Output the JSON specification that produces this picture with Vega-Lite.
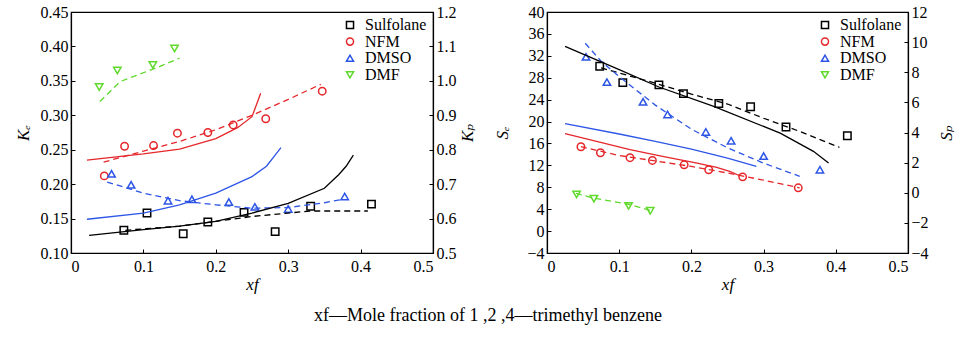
{
  "$schema": "https://vega.github.io/schema/vega-lite/v6.json",
  "background": "white",
  "padding": {"left": 13, "top": 3, "right": 5, "bottom": 5},
  "autosize": {"type": "pad"},
  "title": {"text": "xf—Mole fraction of 1 ,2 ,4—trimethyl benzene", "orient": "bottom", "anchor": "middle", "fontSize": 18, "font": "Liberation Serif, Times New Roman, DejaVu Serif, serif", "fontWeight": "normal", "color": "black", "offset": 14, "dx": 4},
  "spacing": 114,
  "bounds": "flush",
  "datasets": {
    "left_pts": [
      {"solvent": "Sulfolane", "xf": 0.073, "value": 0.133},
      {"solvent": "Sulfolane", "xf": 0.105, "value": 0.158},
      {"solvent": "Sulfolane", "xf": 0.155, "value": 0.128},
      {"solvent": "Sulfolane", "xf": 0.189, "value": 0.145},
      {"solvent": "Sulfolane", "xf": 0.239, "value": 0.159},
      {"solvent": "Sulfolane", "xf": 0.282, "value": 0.131},
      {"solvent": "Sulfolane", "xf": 0.331, "value": 0.168},
      {"solvent": "Sulfolane", "xf": 0.415, "value": 0.171},
      {"solvent": "NFM", "xf": 0.046, "value": 0.212},
      {"solvent": "NFM", "xf": 0.074, "value": 0.255},
      {"solvent": "NFM", "xf": 0.114, "value": 0.256},
      {"solvent": "NFM", "xf": 0.147, "value": 0.274},
      {"solvent": "NFM", "xf": 0.189, "value": 0.275},
      {"solvent": "NFM", "xf": 0.224, "value": 0.286},
      {"solvent": "NFM", "xf": 0.269, "value": 0.295},
      {"solvent": "NFM", "xf": 0.347, "value": 0.335},
      {"solvent": "DMSO", "xf": 0.056, "value": 0.215},
      {"solvent": "DMSO", "xf": 0.083, "value": 0.199},
      {"solvent": "DMSO", "xf": 0.134, "value": 0.176},
      {"solvent": "DMSO", "xf": 0.167, "value": 0.178},
      {"solvent": "DMSO", "xf": 0.218, "value": 0.174},
      {"solvent": "DMSO", "xf": 0.254, "value": 0.167},
      {"solvent": "DMSO", "xf": 0.300, "value": 0.164},
      {"solvent": "DMSO", "xf": 0.378, "value": 0.182},
      {"solvent": "DMF", "xf": 0.039, "value": 0.341},
      {"solvent": "DMF", "xf": 0.064, "value": 0.365},
      {"solvent": "DMF", "xf": 0.113, "value": 0.373},
      {"solvent": "DMF", "xf": 0.143, "value": 0.397}
    ],
    "left_dash": [
      {"solvent": "Sulfolane", "xf": 0.075, "value": 0.133},
      {"solvent": "Sulfolane", "xf": 0.15, "value": 0.139},
      {"solvent": "Sulfolane", "xf": 0.2, "value": 0.146},
      {"solvent": "Sulfolane", "xf": 0.25, "value": 0.153},
      {"solvent": "Sulfolane", "xf": 0.3, "value": 0.158},
      {"solvent": "Sulfolane", "xf": 0.33, "value": 0.161},
      {"solvent": "Sulfolane", "xf": 0.41, "value": 0.161},
      {"solvent": "NFM", "xf": 0.045, "value": 0.232},
      {"solvent": "NFM", "xf": 0.1, "value": 0.248},
      {"solvent": "NFM", "xf": 0.15, "value": 0.262},
      {"solvent": "NFM", "xf": 0.2, "value": 0.279},
      {"solvent": "NFM", "xf": 0.25, "value": 0.300},
      {"solvent": "NFM", "xf": 0.3, "value": 0.323},
      {"solvent": "NFM", "xf": 0.345, "value": 0.345},
      {"solvent": "DMSO", "xf": 0.05, "value": 0.203},
      {"solvent": "DMSO", "xf": 0.1, "value": 0.187},
      {"solvent": "DMSO", "xf": 0.15, "value": 0.176},
      {"solvent": "DMSO", "xf": 0.2, "value": 0.170},
      {"solvent": "DMSO", "xf": 0.25, "value": 0.165},
      {"solvent": "DMSO", "xf": 0.3, "value": 0.166},
      {"solvent": "DMSO", "xf": 0.35, "value": 0.173},
      {"solvent": "DMSO", "xf": 0.375, "value": 0.178},
      {"solvent": "DMF", "xf": 0.04, "value": 0.320},
      {"solvent": "DMF", "xf": 0.068, "value": 0.349},
      {"solvent": "DMF", "xf": 0.123, "value": 0.371},
      {"solvent": "DMF", "xf": 0.15, "value": 0.383}
    ],
    "left_solid": [
      {"solvent": "Sulfolane", "xf": 0.025, "value": 0.551},
      {"solvent": "Sulfolane", "xf": 0.1, "value": 0.568},
      {"solvent": "Sulfolane", "xf": 0.15, "value": 0.578},
      {"solvent": "Sulfolane", "xf": 0.2, "value": 0.592},
      {"solvent": "Sulfolane", "xf": 0.25, "value": 0.616},
      {"solvent": "Sulfolane", "xf": 0.3, "value": 0.644},
      {"solvent": "Sulfolane", "xf": 0.35, "value": 0.688},
      {"solvent": "Sulfolane", "xf": 0.37, "value": 0.728},
      {"solvent": "Sulfolane", "xf": 0.38, "value": 0.752},
      {"solvent": "Sulfolane", "xf": 0.39, "value": 0.784},
      {"solvent": "NFM", "xf": 0.022, "value": 0.770},
      {"solvent": "NFM", "xf": 0.1, "value": 0.788},
      {"solvent": "NFM", "xf": 0.15, "value": 0.802},
      {"solvent": "NFM", "xf": 0.2, "value": 0.832},
      {"solvent": "NFM", "xf": 0.23, "value": 0.864},
      {"solvent": "NFM", "xf": 0.25, "value": 0.896},
      {"solvent": "NFM", "xf": 0.262, "value": 0.964},
      {"solvent": "DMSO", "xf": 0.022, "value": 0.598},
      {"solvent": "DMSO", "xf": 0.1, "value": 0.616},
      {"solvent": "DMSO", "xf": 0.15, "value": 0.640},
      {"solvent": "DMSO", "xf": 0.2, "value": 0.674},
      {"solvent": "DMSO", "xf": 0.25, "value": 0.722},
      {"solvent": "DMSO", "xf": 0.27, "value": 0.752},
      {"solvent": "DMSO", "xf": 0.29, "value": 0.806}
    ],
    "right_pts": [
      {"solvent": "Sulfolane", "xf": 0.073, "value": 30.1},
      {"solvent": "Sulfolane", "xf": 0.105, "value": 27.1},
      {"solvent": "Sulfolane", "xf": 0.155, "value": 26.7},
      {"solvent": "Sulfolane", "xf": 0.189, "value": 25.1},
      {"solvent": "Sulfolane", "xf": 0.238, "value": 23.3},
      {"solvent": "Sulfolane", "xf": 0.282, "value": 22.7},
      {"solvent": "Sulfolane", "xf": 0.331, "value": 19.0},
      {"solvent": "Sulfolane", "xf": 0.416, "value": 17.4},
      {"solvent": "NFM", "xf": 0.047, "value": 15.4},
      {"solvent": "NFM", "xf": 0.074, "value": 14.3},
      {"solvent": "NFM", "xf": 0.115, "value": 13.4},
      {"solvent": "NFM", "xf": 0.146, "value": 12.9},
      {"solvent": "NFM", "xf": 0.190, "value": 12.1},
      {"solvent": "NFM", "xf": 0.224, "value": 11.2},
      {"solvent": "NFM", "xf": 0.271, "value": 9.9},
      {"solvent": "NFM", "xf": 0.348, "value": 7.9},
      {"solvent": "DMSO", "xf": 0.054, "value": 31.8},
      {"solvent": "DMSO", "xf": 0.083, "value": 27.2},
      {"solvent": "DMSO", "xf": 0.133, "value": 23.6},
      {"solvent": "DMSO", "xf": 0.167, "value": 21.3},
      {"solvent": "DMSO", "xf": 0.220, "value": 18.1},
      {"solvent": "DMSO", "xf": 0.255, "value": 16.5},
      {"solvent": "DMSO", "xf": 0.300, "value": 13.7},
      {"solvent": "DMSO", "xf": 0.378, "value": 11.2},
      {"solvent": "DMF", "xf": 0.041, "value": 6.7},
      {"solvent": "DMF", "xf": 0.065, "value": 5.9},
      {"solvent": "DMF", "xf": 0.113, "value": 4.6},
      {"solvent": "DMF", "xf": 0.143, "value": 3.7}
    ],
    "right_dash": [
      {"solvent": "Sulfolane", "xf": 0.075, "value": 29.8},
      {"solvent": "Sulfolane", "xf": 0.15, "value": 27.0},
      {"solvent": "Sulfolane", "xf": 0.2, "value": 25.0},
      {"solvent": "Sulfolane", "xf": 0.25, "value": 23.2},
      {"solvent": "Sulfolane", "xf": 0.3, "value": 20.6},
      {"solvent": "Sulfolane", "xf": 0.35, "value": 18.2},
      {"solvent": "Sulfolane", "xf": 0.405, "value": 15.3},
      {"solvent": "NFM", "xf": 0.047, "value": 15.4},
      {"solvent": "NFM", "xf": 0.1, "value": 13.8},
      {"solvent": "NFM", "xf": 0.15, "value": 12.8},
      {"solvent": "NFM", "xf": 0.2, "value": 11.8},
      {"solvent": "NFM", "xf": 0.25, "value": 10.6},
      {"solvent": "NFM", "xf": 0.3, "value": 9.3},
      {"solvent": "NFM", "xf": 0.35, "value": 7.9},
      {"solvent": "DMSO", "xf": 0.053, "value": 34.3},
      {"solvent": "DMSO", "xf": 0.075, "value": 31.0},
      {"solvent": "DMSO", "xf": 0.1, "value": 28.2},
      {"solvent": "DMSO", "xf": 0.15, "value": 23.0},
      {"solvent": "DMSO", "xf": 0.2, "value": 18.6},
      {"solvent": "DMSO", "xf": 0.25, "value": 15.2},
      {"solvent": "DMSO", "xf": 0.3, "value": 12.4},
      {"solvent": "DMSO", "xf": 0.35, "value": 10.0},
      {"solvent": "DMF", "xf": 0.04, "value": 6.9},
      {"solvent": "DMF", "xf": 0.065, "value": 6.0},
      {"solvent": "DMF", "xf": 0.113, "value": 4.9},
      {"solvent": "DMF", "xf": 0.145, "value": 3.7}
    ],
    "right_solid": [
      {"solvent": "Sulfolane", "xf": 0.025, "value": 9.72},
      {"solvent": "Sulfolane", "xf": 0.1, "value": 8.17},
      {"solvent": "Sulfolane", "xf": 0.155, "value": 7.02},
      {"solvent": "Sulfolane", "xf": 0.23, "value": 5.75},
      {"solvent": "Sulfolane", "xf": 0.323, "value": 3.96},
      {"solvent": "Sulfolane", "xf": 0.369, "value": 2.75},
      {"solvent": "Sulfolane", "xf": 0.39, "value": 1.97},
      {"solvent": "DMSO", "xf": 0.025, "value": 4.59},
      {"solvent": "DMSO", "xf": 0.1, "value": 3.9},
      {"solvent": "DMSO", "xf": 0.15, "value": 3.41},
      {"solvent": "DMSO", "xf": 0.2, "value": 2.9},
      {"solvent": "DMSO", "xf": 0.25, "value": 2.3},
      {"solvent": "DMSO", "xf": 0.29, "value": 1.75},
      {"solvent": "NFM", "xf": 0.025, "value": 3.92},
      {"solvent": "NFM", "xf": 0.07, "value": 3.4},
      {"solvent": "NFM", "xf": 0.115, "value": 2.86},
      {"solvent": "NFM", "xf": 0.16, "value": 2.42},
      {"solvent": "NFM", "xf": 0.208, "value": 1.97},
      {"solvent": "NFM", "xf": 0.235, "value": 1.68},
      {"solvent": "NFM", "xf": 0.253, "value": 1.42},
      {"solvent": "NFM", "xf": 0.267, "value": 1.13}
    ]
  },
  "hconcat": [
    {
      "width": 362,
      "height": 241,
      "layer": [
        {
          "encoding": {
            "x": {"field": "xf", "type": "quantitative", "scale": {"domain": [0, 0.5], "nice": false}, "axis": {"title": "xf", "values": [0, 0.1, 0.2, 0.3, 0.4, 0.5], "format": ".1~f", "labelPadding": 9, "titlePadding": 2}},
            "y": {"field": "value", "type": "quantitative", "scale": {"domain": [0.1, 0.45], "nice": false, "zero": false}, "axis": {"title": "Kₑ", "values": [0.1, 0.15, 0.2, 0.25, 0.3, 0.35, 0.4, 0.45], "format": ".2f", "titlePadding": 8}},
            "color": {"field": "solvent", "type": "nominal", "scale": {"domain": ["Sulfolane", "NFM", "DMSO", "DMF"], "range": ["#000000", "#e5262a", "#2d55e6", "#5fd92b"]}, "legend": {"orient": "none", "legendX": 271, "legendY": 5, "title": null}}
          },
          "layer": [
            {
              "data": {"name": "left_pts"},
              "mark": {"type": "point", "filled": false, "strokeWidth": 1.5, "size": 55, "opacity": 1},
              "encoding": {
                "shape": {"field": "solvent", "type": "nominal", "scale": {"domain": ["Sulfolane", "NFM", "DMSO", "DMF"], "range": ["square", "circle", "triangle-up", "triangle-down"]}, "legend": {"orient": "none", "legendX": 271, "legendY": 5, "title": null}}
              }
            },
            {
              "data": {"name": "left_dash"},
              "mark": {"type": "line", "strokeDash": [6, 4], "strokeWidth": 1.3}
            }
          ]
        },
        {
          "data": {"name": "left_solid"},
          "mark": {"type": "line", "strokeWidth": 1.3},
          "encoding": {
            "x": {"field": "xf", "type": "quantitative"},
            "y": {"field": "value", "type": "quantitative", "scale": {"domain": [0.5, 1.2], "nice": false, "zero": false}, "axis": {"orient": "right", "title": "Kₚ", "titleAngle": 270, "titlePadding": 20, "values": [0.5, 0.6, 0.7, 0.8, 0.9, 1.0, 1.1, 1.2], "format": ".1f"}},
            "color": {"field": "solvent", "type": "nominal"}
          }
        }
      ],
      "resolve": {"scale": {"y": "independent"}}
    },
    {
      "width": 361,
      "height": 241,
      "layer": [
        {
          "encoding": {
            "x": {"field": "xf", "type": "quantitative", "scale": {"domain": [0, 0.5], "nice": false}, "axis": {"title": "xf", "values": [0, 0.1, 0.2, 0.3, 0.4, 0.5], "format": ".1~f", "labelPadding": 9, "titlePadding": 2}},
            "y": {"field": "value", "type": "quantitative", "scale": {"domain": [-4, 40], "nice": false, "zero": false}, "axis": {"title": "Sₑ", "values": [-4, 0, 4, 8, 12, 16, 20, 24, 28, 32, 36, 40], "titlePadding": 15}},
            "color": {"field": "solvent", "type": "nominal", "scale": {"domain": ["Sulfolane", "NFM", "DMSO", "DMF"], "range": ["#000000", "#e5262a", "#2d55e6", "#5fd92b"]}, "legend": {"orient": "none", "legendX": 270, "legendY": 5, "title": null}}
          },
          "layer": [
            {
              "data": {"name": "right_pts"},
              "mark": {"type": "point", "filled": false, "strokeWidth": 1.5, "size": 55, "opacity": 1},
              "encoding": {
                "shape": {"field": "solvent", "type": "nominal", "scale": {"domain": ["Sulfolane", "NFM", "DMSO", "DMF"], "range": ["square", "circle", "triangle-up", "triangle-down"]}, "legend": {"orient": "none", "legendX": 270, "legendY": 5, "title": null}}
              }
            },
            {
              "data": {"name": "right_dash"},
              "mark": {"type": "line", "strokeDash": [6, 4], "strokeWidth": 1.3}
            }
          ]
        },
        {
          "data": {"name": "right_solid"},
          "mark": {"type": "line", "strokeWidth": 1.3},
          "encoding": {
            "x": {"field": "xf", "type": "quantitative"},
            "y": {"field": "value", "type": "quantitative", "scale": {"domain": [-4, 12], "nice": false, "zero": false}, "axis": {"orient": "right", "title": "Sₚ", "titleAngle": 270, "titlePadding": 27, "values": [-4, -2, 0, 2, 4, 6, 8, 10, 12]}},
            "color": {"field": "solvent", "type": "nominal"}
          }
        }
      ],
      "resolve": {"scale": {"y": "independent"}}
    }
  ],
  "resolve": {
    "scale": {"color": "independent", "shape": "independent"},
    "legend": {"color": "independent", "shape": "independent"}
  },
  "config": {
    "font": "Liberation Serif, Times New Roman, DejaVu Serif, serif",
    "view": {"stroke": "black", "strokeWidth": 1.2},
    "axis": {
      "grid": false,
      "domainColor": "black",
      "domainWidth": 1.2,
      "tickColor": "black",
      "tickSize": -4,
      "labelPadding": 7,
      "labelOverlap": false,
      "labelColor": "black",
      "labelFont": "Liberation Serif, Times New Roman, DejaVu Serif, serif",
      "labelFontSize": 16,
      "titleFont": "Liberation Serif, Times New Roman, DejaVu Serif, serif",
      "titleFontStyle": "italic",
      "titleFontWeight": "normal",
      "titleFontSize": 17,
      "titleColor": "black",
      "titlePadding": 5
    },
    "legend": {
      "labelFont": "Liberation Serif, Times New Roman, DejaVu Serif, serif",
      "labelFontSize": 16,
      "labelColor": "black",
      "symbolSize": 50,
      "symbolStrokeWidth": 1.5,
      "rowPadding": 0.6,
      "padding": 0,
      "labelOffset": 7
    }
  }
}
